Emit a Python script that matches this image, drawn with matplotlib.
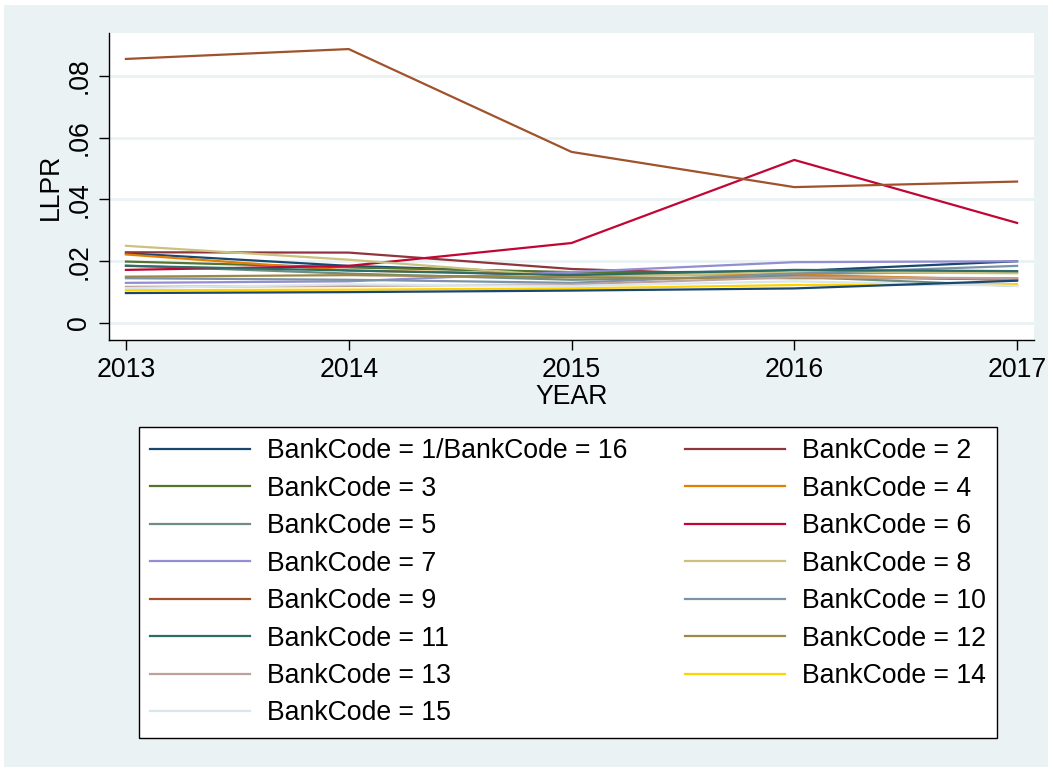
import matplotlib
matplotlib.use("Agg")
import matplotlib.pyplot as plt
from matplotlib.patches import Rectangle

plt.rcParams['font.family'] = ['Liberation Sans', 'DejaVu Sans']

years = [2013, 2014, 2015, 2016, 2017]

# LLPR by bank
bank1 = [0.0226, 0.0185, 0.0162, 0.0168, 0.0200]
bank2 = [0.0229, 0.0228, 0.0175, 0.0152, 0.0140]
bank3 = [0.0199, 0.0180, 0.0165, 0.0160, 0.0165]
bank4 = [0.0222, 0.0170, 0.0158, 0.0156, 0.0140]
bank5 = [0.0186, 0.0160, 0.0140, 0.0150, 0.0120]
bank6 = [0.0172, 0.0185, 0.0259, 0.0528, 0.0324]
bank7 = [0.0130, 0.0135, 0.0165, 0.0197, 0.0200]
bank8 = [0.0250, 0.0205, 0.0150, 0.0165, 0.0161]
bank9 = [0.0855, 0.0887, 0.0554, 0.0440, 0.0458]
bank10 = [0.0145, 0.0140, 0.0130, 0.0160, 0.0185]
bank11 = [0.0185, 0.0170, 0.0155, 0.0172, 0.0168]
bank12 = [0.0150, 0.0155, 0.0148, 0.0145, 0.0145]
bank13 = [0.0117, 0.0120, 0.0125, 0.0148, 0.0145]
bank14 = [0.0106, 0.0108, 0.0112, 0.0123, 0.0126]
bank15 = [0.0113, 0.0125, 0.0120, 0.0135, 0.0120]
bank16 = [0.0097, 0.0100, 0.0105, 0.0112, 0.0137]

series = [bank1, bank2, bank3, bank4, bank5, bank6, bank7, bank8,
          bank9, bank10, bank11, bank12, bank13, bank14, bank15, bank16]
labels = ['BankCode = 1/BankCode = 16'] + ['BankCode = %d' % i for i in range(2, 16)]

# Stata s2color pstyles, p1 is reused for the 16th line
colors = ['#1a476f', '#90353b', '#55752f', '#e37e00', '#6e8e84',
          '#c10534', '#938dd2', '#cac27e', '#a0522d', '#7b92a8',
          '#2d6d66', '#9c8847', '#bfa19c', '#ffd200', '#d9e6eb', '#1a476f']

bg = '#eaf2f3'
fs = 19.2
W, H = 1053, 772
fig = plt.figure(figsize=(W / 100, H / 100), dpi=100)
fig.patches.append(Rectangle((4 / W, 5 / H), 1044 / W, 762 / H,
                             transform=fig.transFigure, facecolor=bg,
                             edgecolor='none', zorder=-10))

ax = fig.add_axes([109 / W, 1 - 340 / H, 925 / W, 307 / H])
ax.set_facecolor('white')

handles = []
for vals, col in zip(series, colors):
    h, = ax.plot(years, vals, color=col, lw=1.6)
    handles.append(h)

ax.set_xlim(2012.924, 2017.076)
ax.set_ylim(-0.0055, 0.0939)
ax.set_xticks(years)
ax.set_yticks([0, 0.02, 0.04, 0.06, 0.08])
ax.set_yticklabels(['0', '.02', '.04', '.06', '.08'], rotation=90, va='center')
ax.tick_params(axis='both', direction='out', length=7, width=1, labelsize=fs, pad=5)
ax.yaxis.grid(True, color=bg, lw=2)
ax.set_axisbelow(True)
for s in ['top', 'right']:
    ax.spines[s].set_visible(False)
ax.spines['left'].set_linewidth(1)
ax.spines['bottom'].set_linewidth(1)
ax.set_xlabel('YEAR', fontsize=fs, labelpad=1)
ax.set_ylabel('LLPR', fontsize=fs, labelpad=2)

# Stata fills the legend row by row: reorder for matplotlib's column fill
h15 = handles[:15]
order = list(range(0, 15, 2)) + list(range(1, 15, 2))
leg = fig.legend([h15[i] for i in order], [labels[i] for i in order],
                 ncol=2, loc='upper left', bbox_to_anchor=(139 / W, 1 - 427 / H),
                 fontsize=fs, frameon=True, fancybox=False, edgecolor='black',
                 facecolor='white', framealpha=1,
                 handlelength=3.75, handletextpad=0.63, columnspacing=2.15,
                 labelspacing=0.43, borderpad=0.42, borderaxespad=0)
leg.get_frame().set_linewidth(1)
for line in leg.get_lines():
    line.set_linewidth(1.6)

fig.savefig('out.png', dpi=100)
